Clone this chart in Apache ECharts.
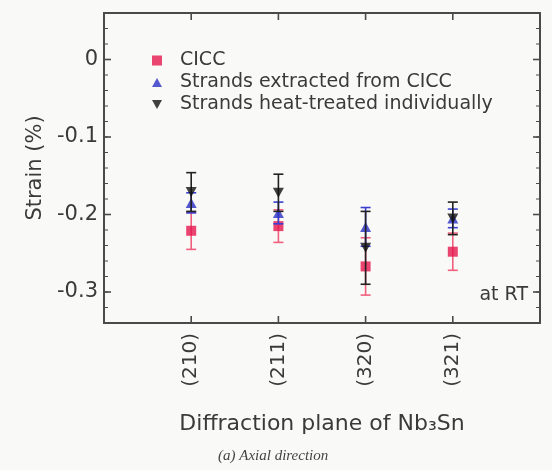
<!DOCTYPE html>
<html><head><meta charset="utf-8">
<script src="https://cdn.jsdelivr.net/npm/echarts@6/dist/echarts.min.js"></script>
<style>html,body{margin:0;padding:0;background:#f9f9f7}#c{width:552px;height:470px}</style>
</head><body><div id="c"></div>
<script>
const categories = ['(210)', '(211)', '(320)', '(321)'];
const seriesNames = ['CICC', 'Strands extracted from CICC', 'Strands heat-treated individually'];
const cicc = [-0.221, -0.215, -0.267, -0.248];
const ciccErr = [0.024, 0.021, 0.037, 0.024];
const extracted = [-0.185, -0.198, -0.216, -0.205];
const extractedErr = [0.013, 0.014, 0.025, 0.012];
const heat = [-0.171, -0.172, -0.243, -0.205];
const heatErr = [0.025, 0.024, 0.047, 0.021];
const yTicks = [0, -0.1, -0.2, -0.3];
const yMin = -0.34, yMax = 0.06, minorStep = 0.02;
const xName = 'Diffraction plane of Nb₃Sn';
const caption = '(a) Axial direction';
const note = 'at RT';

const xCats = [''].concat(categories, ['']);
const yMinor = [];
for (let k = Math.ceil(yMin / minorStep - 1e-9); k * minorStep <= yMax + 1e-9; k++) yMinor.push(+(k * minorStep).toFixed(4));

const FONT = 'DejaVu Sans';
const TXT = '#3a3a3a';
const AX = '#4a4a4a';
const colors = ['#e6174d', '#2b30c4', '#111111'];
const errColors = ['#f0607e', '#3a40d0', '#222222'];

function errSeries(vals, errs, color, z) {
  return {
    type: 'custom', xAxisIndex: 0, yAxisIndex: 0, z: z, silent: true,
    encode: { x: 0, y: [1, 2] },
    data: vals.map((v, i) => [categories[i], v - errs[i], v + errs[i]]),
    renderItem: function (params, api) {
      const lo = api.coord([api.value(0), api.value(1)]);
      const hi = api.coord([api.value(0), api.value(2)]);
      const w = 5, st = { stroke: color, lineWidth: 1.6 };
      return { type: 'group', children: [
        { type: 'line', shape: { x1: lo[0], y1: lo[1], x2: hi[0], y2: hi[1] }, style: st },
        { type: 'line', shape: { x1: lo[0] - w, y1: lo[1], x2: lo[0] + w, y2: lo[1] }, style: st },
        { type: 'line', shape: { x1: hi[0] - w, y1: hi[1], x2: hi[0] + w, y2: hi[1] }, style: st }
      ]};
    }
  };
}
// inward ticks on all four sides, positioned through the axes' own scales
function yTickSeries(values, len, width) {
  return {
    type: 'custom', xAxisIndex: 0, yAxisIndex: 0, z: 10, silent: true,
    encode: { x: 0, y: 1 },
    data: values.map(v => [categories[0], v]),
    renderItem: function (params, api) {
      const cs = params.coordSys;
      const y = api.coord([api.value(0), api.value(1)])[1];
      const st = { stroke: AX, lineWidth: width };
      return { type: 'group', children: [
        { type: 'line', shape: { x1: cs.x, y1: y, x2: cs.x + len, y2: y }, style: st },
        { type: 'line', shape: { x1: cs.x + cs.width, y1: y, x2: cs.x + cs.width - len, y2: y }, style: st }
      ]};
    }
  };
}
function xTickSeries(len, width) {
  return {
    type: 'custom', xAxisIndex: 0, yAxisIndex: 0, z: 10, silent: true,
    encode: { x: 0, y: 1 },
    data: categories.map(c => [c, yMin]),
    renderItem: function (params, api) {
      const cs = params.coordSys;
      const x = api.coord([api.value(0), api.value(1)])[0];
      const st = { stroke: AX, lineWidth: width };
      return { type: 'group', children: [
        { type: 'line', shape: { x1: x, y1: cs.y + cs.height, x2: x, y2: cs.y + cs.height - len }, style: st },
        { type: 'line', shape: { x1: x, y1: cs.y, x2: x, y2: cs.y + len }, style: st }
      ]};
    }
  };
}
const downTri = 'path://M0,0L10,0L5,9Z';
const upTri = 'path://M5,0L10,9L0,9Z';

const chart = echarts.init(document.getElementById('c'));
chart.setOption({
  backgroundColor: '#f9f9f7',
  animation: false,
  textStyle: { fontFamily: FONT },
  grid: { left: 104, right: 12, top: 13, bottom: 147, containLabel: false, show: false },
  legend: {
    orient: 'vertical', left: 147, top: 46, itemWidth: 10, itemHeight: 10, itemGap: 3,
    textStyle: { fontFamily: FONT, fontSize: 19, color: TXT, padding: [0, 0, 0, 13] },
    data: [
      { name: seriesNames[0], icon: 'rect' },
      { name: seriesNames[1], icon: upTri },
      { name: seriesNames[2], icon: downTri }
    ]
  },
  xAxis: [
    {
      type: 'category', data: xCats, boundaryGap: false, position: 'bottom',
      axisLine: { onZero: false, lineStyle: { color: AX, width: 2 } },
      axisTick: { show: false },
      axisLabel: { rotate: 90, margin: 10, fontFamily: FONT, fontSize: 20, color: TXT, interval: 0 },
      name: xName, nameLocation: 'middle', nameGap: 90,
      nameTextStyle: { fontFamily: FONT, fontSize: 22, color: TXT }
    },
    {
      type: 'category', data: xCats, boundaryGap: false, position: 'top',
      axisLine: { onZero: false, lineStyle: { color: AX, width: 2 } },
      axisTick: { show: false },
      axisLabel: { show: false }
    }
  ],
  yAxis: [
    {
      type: 'value', min: yMin, max: yMax, position: 'left', splitLine: { show: false },
      axisLine: { show: true, onZero: false, lineStyle: { color: AX, width: 2 } },
      axisTick: { show: false },
      axisLabel: { customValues: yTicks, fontFamily: FONT, fontSize: 21, color: TXT, margin: 6, formatter: (v) => String(v) },
      name: 'Strain (%)', nameLocation: 'middle', nameGap: 58, nameRotate: 90,
      nameTextStyle: { fontFamily: FONT, fontSize: 21, color: TXT }
    },
    {
      type: 'value', min: yMin, max: yMax, position: 'right', splitLine: { show: false },
      axisLine: { show: true, onZero: false, lineStyle: { color: AX, width: 2 } },
      axisTick: { show: false },
      axisLabel: { show: false }
    }
  ],
  graphic: [
    { type: 'text', right: 24, top: 286, style: { text: note, fontFamily: FONT, fontSize: 19, fill: TXT } },
    { type: 'text', left: 218, top: 449, style: { text: caption, fontFamily: 'Liberation Serif', fontStyle: 'italic', fontSize: 15, fill: '#444' } }
  ],
  series: [
    yTickSeries(yMinor, 4, 1),
    yTickSeries(yTicks, 7, 1.6),
    xTickSeries(7, 1.6),
    errSeries(cicc, ciccErr, errColors[0], 2),
    { type: 'scatter', name: seriesNames[0], xAxisIndex: 0, yAxisIndex: 0, z: 3, symbol: 'rect', symbolSize: 10,
      itemStyle: { color: colors[0] }, data: cicc.map((v, i) => [categories[i], v]) },
    errSeries(extracted, extractedErr, errColors[1], 4),
    { type: 'scatter', name: seriesNames[1], xAxisIndex: 0, yAxisIndex: 0, z: 5, symbol: upTri, symbolSize: [11, 10],
      itemStyle: { color: colors[1] }, data: extracted.map((v, i) => [categories[i], v]) },
    errSeries(heat, heatErr, errColors[2], 6),
    { type: 'scatter', name: seriesNames[2], xAxisIndex: 0, yAxisIndex: 0, z: 7, symbol: downTri, symbolSize: [11, 10],
      itemStyle: { color: colors[2] }, data: heat.map((v, i) => [categories[i], v]) }
  ]
});
</script>
</body></html>
